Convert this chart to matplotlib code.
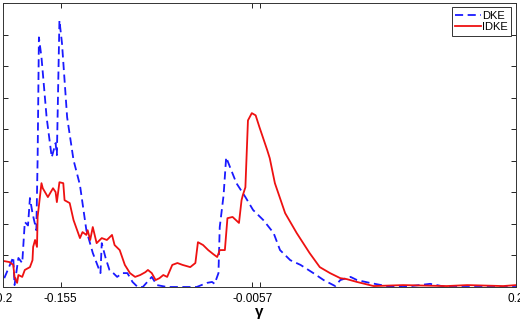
import matplotlib.pyplot as plt
import numpy as np

plt.rcParams['font.family'] = ['Liberation Sans', 'DejaVu Sans']

# DKE curve (gamma, value)
dke_x = [-0.199, -0.192, -0.191, -0.188, -0.185, -0.183, -0.1805, -0.179, -0.177,
         -0.174, -0.173, -0.172, -0.170, -0.166, -0.162, -0.159, -0.158, -0.156,
         -0.154, -0.150, -0.145, -0.140, -0.135, -0.130, -0.124, -0.123, -0.120,
         -0.117, -0.114, -0.111, -0.107, -0.103, -0.099, -0.095, -0.091, -0.084,
         -0.080, -0.072, -0.062, -0.049, -0.041, -0.037, -0.035, -0.032, -0.031,
         -0.028, -0.026, -0.023, -0.018, -0.011, -0.005, 0.003, 0.011, 0.016,
         0.024, 0.032, 0.042, 0.050, 0.059, 0.063, 0.071, 0.076, 0.086, 0.099,
         0.112, 0.133, 0.146, 0.159, 0.177, 0.200]
dke_y = [0.28, 0.95, 0.06, 0.92, 0.76, 2.06, 1.95, 2.82, 2.34,
         1.80, 4.08, 7.91, 7.28, 5.38, 4.11, 4.56, 4.18, 8.45,
         7.72, 5.38, 4.02, 3.23, 1.80, 1.08, 0.44, 1.39, 0.92,
         0.54, 0.44, 0.32, 0.44, 0.44, 0.16, 0.0, 0.0, 0.32,
         0.06, 0.0, 0.0, 0.0, 0.13, 0.16, 0.10, 0.44, 1.90,
         2.91, 4.11, 3.80, 3.29, 2.85, 2.44, 2.12, 1.71, 1.17,
         0.85, 0.70, 0.44, 0.22, 0.03, 0.22, 0.32, 0.22, 0.13, 0.03,
         0.0, 0.10, 0.0, 0.0, 0.0, 0.0]

# IDKE curve
idke_x = [-0.199, -0.195, -0.192, -0.191, -0.189, -0.188, -0.185, -0.183, -0.179,
          -0.177, -0.1765, -0.175, -0.1735, -0.173, -0.170, -0.169, -0.165, -0.161,
          -0.159, -0.158, -0.156, -0.153, -0.152, -0.148, -0.145, -0.140, -0.138,
          -0.135, -0.134, -0.132, -0.130, -0.127, -0.123, -0.119, -0.115, -0.113,
          -0.109, -0.105, -0.101, -0.097, -0.093, -0.089, -0.087, -0.084, -0.081,
          -0.078, -0.075, -0.072, -0.068, -0.064, -0.060, -0.054, -0.050, -0.048,
          -0.044, -0.040, -0.036, -0.033, -0.031, -0.027, -0.025, -0.021, -0.016,
          -0.014, -0.013, -0.011, -0.009, -0.006, -0.003, 0.000, 0.006, 0.008,
          0.012, 0.020, 0.029, 0.039, 0.047, 0.055, 0.063, 0.068, 0.076, 0.089,
          0.112, 0.146, 0.162, 0.190, 0.200]
idke_y = [0.82, 0.79, 0.70, 0.32, 0.13, 0.38, 0.32, 0.54, 0.63,
          0.85, 1.27, 1.49, 1.27, 2.22, 3.29, 3.13, 2.85, 3.13,
          3.01, 2.69, 3.32, 3.29, 2.75, 2.66, 2.12, 1.55, 1.74,
          1.65, 1.80, 1.49, 1.90, 1.39, 1.55, 1.49, 1.65, 1.33,
          1.17, 0.70, 0.44, 0.32, 0.38, 0.47, 0.54, 0.44, 0.22,
          0.28, 0.38, 0.32, 0.70, 0.76, 0.70, 0.63, 0.76, 1.42,
          1.33, 1.17, 1.04, 0.95, 1.17, 1.17, 2.18, 2.22, 2.03,
          2.75, 2.91, 3.16, 5.28, 5.51, 5.44, 5.06, 4.34, 4.08,
          3.29, 2.34, 1.71, 1.08, 0.63, 0.44, 0.28, 0.25, 0.16, 0.03,
          0.06, 0.03, 0.06, 0.03, 0.06]

xticks = [-0.2, -0.155, -0.0057, 0, 0.2]
xticklabels = ['-0.2', '-0.155', '-0.0057', '', '0.2']

fig = plt.figure(figsize=(5.2, 3.2), dpi=100)
ax = fig.add_axes([3/520, 33/320, 513/520, 284/320])

ax.plot(dke_x, dke_y, color='#1a1aff', linestyle=(0, (4.5, 2.5)), lw=1.3, label='DKE')
ax.plot(idke_x, idke_y, color='#ee1111', linestyle='solid', lw=1.3, label='IDKE')

ax.set_xlim(-0.2, 0.2)
ax.set_ylim(0, 9)
ax.set_xticks(xticks)
ax.set_xticklabels(xticklabels, fontsize=8.5)
ax.set_yticks(np.arange(0, 10))
ax.set_yticklabels([])
ax.tick_params(direction='in', top=True, right=True, length=3.5, width=0.6, pad=4)
for s in ax.spines.values():
    s.set_linewidth(0.7)
    s.set_color('#333333')
ax.set_xlabel('γ', fontsize=11, fontweight='bold', labelpad=0)

leg = ax.legend(loc='upper right', bbox_to_anchor=(0.99, 0.985), fontsize=8,
                fancybox=False, framealpha=1, edgecolor='#333333',
                handlelength=2.3, handletextpad=0.1, borderpad=0.3,
                labelspacing=0.15, borderaxespad=0)
leg.get_frame().set_linewidth(0.7)

plt.savefig('out.png', dpi=100)
